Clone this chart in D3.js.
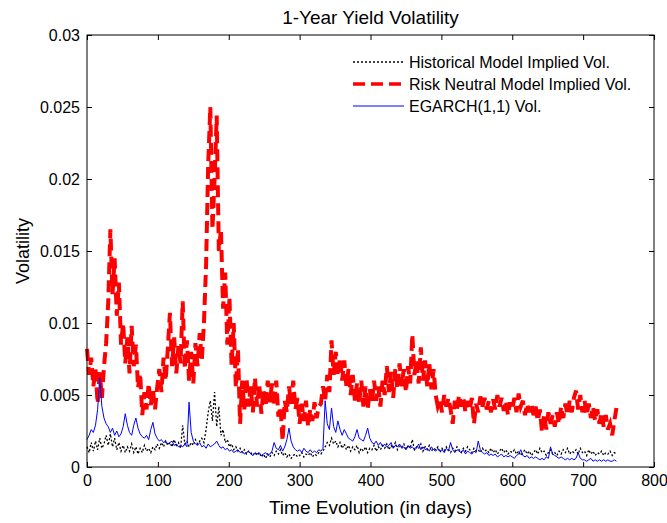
<!DOCTYPE html>
<html>
<head>
    <meta charset="UTF-8">
    <title>1-Year Yield Volatility</title>
    <script src="https://d3js.org/d3.v7.min.js"></script>
    <style>
        body {
            margin: 0;
            padding: 0;
            background: #fff;
        }
        svg text {
            font-family: "Liberation Sans", Arial, Helvetica, sans-serif;
            fill: #000;
        }
        .axis path {
            display: none;
        }
        .axis line {
            stroke: #000;
        }
        .axis text {
            font-size: 16px;
        }
    </style>
</head>
<body>
    <svg id="chart" width="667" height="523"></svg>

    <script>
        // volatility values are in thousandths (x 1e-3), one reading every 3 days
        const step = 3;

        const historicalVol = [
            1.4, 1.0, 1.7, 1.1, 1.8, 1.2, 2.0, 1.3, 1.6, 2.2,
            1.5, 2.3, 1.4, 2.0, 1.2, 1.7, 1.1, 1.5, 1.0, 1.4,
            1.1, 1.6, 1.0, 1.4, 0.9, 1.3, 1.0, 1.5, 1.1, 1.3,
            1.0, 1.4, 1.2, 1.6, 1.3, 1.7, 1.4, 1.8, 1.5, 1.7,
            1.4, 1.9, 1.5, 1.7, 1.3, 2.9, 1.6, 1.8, 1.4, 1.7,
            1.5, 1.9, 1.6, 1.8, 2.0, 1.7, 2.6, 3.8, 4.6, 3.2,
            5.2, 2.8, 4.2, 2.2, 2.6, 1.7, 1.9, 1.4, 1.6, 1.2,
            1.4, 1.1, 1.3, 1.0, 1.2, 0.9, 1.1, 1.0, 0.8, 1.0,
            0.8, 1.0, 0.7, 0.9, 0.6, 0.9, 0.7, 1.0, 0.8, 1.1,
            0.9, 1.2, 0.8, 1.0, 0.7, 0.9, 0.6, 0.8, 0.9, 0.7,
            0.8, 1.0, 0.7, 0.9, 0.8, 1.0, 0.7, 0.9, 0.8, 1.0,
            0.9, 1.1, 1.4, 1.7, 1.5, 2.0, 1.6, 1.8, 1.4, 1.7,
            1.3, 1.6, 1.2, 1.5, 1.1, 1.4, 1.2, 1.5, 1.0, 1.3,
            1.1, 1.4, 1.0, 1.3, 1.2, 1.5, 1.1, 1.4, 1.2, 1.5,
            1.3, 1.6, 1.2, 1.5, 1.3, 1.7, 1.2, 1.5, 1.4, 1.6,
            1.2, 1.5, 1.3, 1.9, 1.2, 1.4, 1.3, 1.6, 1.1, 1.4,
            1.2, 1.5, 1.1, 1.3, 1.2, 1.4, 1.0, 1.3, 1.1, 1.4,
            1.2, 1.0, 1.3, 1.1, 1.4, 1.2, 1.0, 1.3, 1.1, 1.4,
            1.2, 1.0, 1.3, 1.1, 1.2, 1.0, 1.3, 1.1, 1.2, 1.0,
            1.3, 1.0, 1.2, 0.9, 1.1, 1.3, 1.0, 1.2, 0.9, 1.1,
            1.0, 1.2, 0.9, 1.1, 0.8, 1.0, 1.2, 0.9, 1.1, 0.8,
            1.0, 1.2, 0.9, 1.3, 1.0, 1.1, 0.8, 1.0, 1.2, 0.9,
            1.0, 0.8, 1.1, 0.9, 1.2, 1.0, 1.3, 0.9, 1.1, 1.0,
            1.2, 0.9, 1.3, 1.0, 1.1, 0.8, 1.2, 0.9, 1.1, 0.8,
            1.0, 0.9, 1.1, 0.8, 1.0, 0.9, 1.1, 0.8, 1.0, 0.9
        ];

        const riskNeutralVol = [
            8.2, 6.4, 7.6, 5.6, 6.8, 4.4, 6.6, 4.8, 7.0, 8.6,
            11.5, 16.5, 12.0, 14.5, 10.5, 12.8, 8.5, 10.0, 7.2, 9.0,
            6.5, 9.8, 7.0, 8.5, 5.5, 6.5, 3.6, 5.2, 4.0, 5.8,
            4.3, 5.4, 4.0, 5.5, 6.8, 5.2, 7.6, 6.0, 8.2, 10.7,
            7.0, 9.0, 6.5, 8.4, 7.2, 11.5, 6.8, 8.8, 6.0, 8.0,
            5.8, 8.6, 7.0, 9.3, 7.4, 10.0, 14.0, 21.0, 25.0, 16.5,
            20.0, 24.4, 15.0, 16.5, 11.0, 13.5, 8.5, 11.8, 7.0, 10.0,
            5.5, 8.2, 3.0, 6.0, 4.0, 6.2, 4.2, 5.6, 3.8, 6.2,
            4.2, 5.8, 3.7, 5.4, 4.2, 6.0, 4.5, 5.8, 4.2, 6.0,
            3.5, 4.2, 1.8, 4.6, 3.8, 5.6, 4.4, 6.0, 4.0, 4.8,
            3.0, 4.4, 3.2, 4.6, 2.8, 4.0, 3.2, 4.5, 3.4, 4.2,
            4.4, 5.6, 4.6, 6.4, 5.2, 8.8, 6.4, 8.0, 6.3, 7.6,
            6.0, 7.4, 5.6, 6.8, 5.0, 6.4, 4.6, 5.8, 4.4, 6.0,
            4.2, 5.6, 4.0, 5.4, 4.4, 6.0, 4.6, 5.6, 4.2, 6.0,
            5.0, 7.0, 5.2, 6.6, 4.8, 6.8, 5.4, 7.2, 5.6, 6.8,
            5.2, 7.0, 5.8, 9.2, 6.4, 7.4, 5.8, 8.3, 6.0, 7.4,
            5.6, 7.2, 5.4, 6.8, 5.0, 4.2, 4.6, 3.8, 5.0, 4.2,
            4.8, 4.0, 3.0, 4.6, 4.0, 5.0, 4.2, 4.8, 3.8, 4.6,
            4.0, 4.8, 3.0, 4.4, 3.8, 4.9, 4.2, 4.8, 4.0, 4.6,
            3.8, 4.7, 4.0, 5.0, 4.2, 4.8, 3.9, 4.6, 3.6, 4.5,
            4.0, 4.8, 3.8, 5.1, 4.2, 4.6, 3.6, 4.4, 3.8, 4.4,
            3.6, 4.2, 3.2, 4.0, 2.4, 3.6, 2.6, 3.8, 3.0, 3.6,
            2.8, 3.8, 3.0, 4.2, 3.4, 4.4, 3.6, 4.6, 3.8, 4.8,
            5.3, 4.0, 5.0, 3.8, 4.6, 3.6, 4.4, 3.4, 4.2, 3.2,
            4.0, 3.0, 3.8, 2.8, 3.6, 2.6, 3.0, 2.2, 3.2, 4.1
        ];

        const egarchVol = [
            1.9, 2.2, 2.6, 2.4, 2.9, 4.0, 6.2, 4.2, 3.4, 3.0,
            2.8, 2.4, 2.7, 2.2, 2.5, 2.1, 2.3, 2.8, 3.7, 2.9,
            2.4, 2.2, 2.9, 3.4, 2.7, 2.3, 2.1, 2.0, 2.2, 1.9,
            2.6, 3.1, 2.3, 2.0, 1.8, 1.9, 1.7, 1.8, 1.6, 1.7,
            1.8, 1.5, 1.6, 1.4, 1.5, 1.4, 1.6, 1.4, 4.5, 2.4,
            1.8, 1.6, 1.5, 1.7, 1.4, 1.5, 1.3, 1.6, 1.4, 1.5,
            1.6, 1.8, 1.5, 1.3, 1.4, 1.2, 1.3, 1.1, 1.2, 1.0,
            1.1, 1.2, 1.0, 1.1, 0.9, 1.0, 1.1, 0.9, 0.8, 1.0,
            0.9, 1.0, 0.8, 0.9, 1.0, 0.8, 0.9, 1.1, 1.7, 1.3,
            1.2, 1.5, 1.1, 1.4, 1.9, 2.7, 1.8, 1.4, 1.2, 1.1,
            1.2, 1.0, 1.3, 1.1, 1.0, 1.2, 1.0, 1.1, 1.0, 1.2,
            1.1, 1.3, 4.6, 3.0, 2.6, 4.1, 2.8, 2.4, 3.2, 2.6,
            2.2, 2.6, 2.3, 2.0, 1.9, 1.8, 2.1, 2.6, 2.0, 1.9,
            1.8, 2.2, 2.7, 2.0, 1.7, 1.6, 1.8, 1.5, 1.7, 1.4,
            1.6, 1.4, 1.5, 1.7, 1.3, 1.5, 1.4, 1.6, 1.3, 1.4,
            1.2, 1.5, 1.3, 1.4, 1.2, 1.3, 1.6, 1.2, 1.4, 1.2,
            1.3, 1.1, 1.4, 1.2, 1.1, 1.3, 1.1, 1.2, 1.0, 1.3,
            1.1, 1.7, 1.2, 1.0, 1.2, 1.1, 1.0, 1.2, 0.9, 1.1,
            1.0, 0.9, 1.1, 1.0, 1.8, 1.2, 1.0, 0.9, 1.0, 0.8,
            0.9, 0.8, 0.9, 0.7, 0.8, 0.9, 0.7, 0.8, 0.7, 0.8,
            0.7, 0.6, 0.8, 0.9, 1.2, 0.8, 0.7, 0.8, 0.6, 0.7,
            0.6, 0.7, 0.6, 0.5, 0.6, 0.5, 0.7, 0.6, 1.4, 0.9,
            0.8, 0.7, 0.6, 0.7, 0.6, 0.5, 0.6, 0.5, 0.6, 0.5,
            0.6, 1.0, 0.6, 0.5, 0.5, 0.4, 0.5, 0.6, 0.4, 0.5,
            0.4, 0.5, 0.4, 0.5, 0.4, 0.5, 0.4, 0.4, 0.5, 0.4
        ];

        const xTicks = [0, 100, 200, 300, 400, 500, 600, 700, 800];
        const yTicks = [0, 5, 10, 15, 20, 25, 30];
        const yTickLabels = ["0", "0.005", "0.01", "0.015", "0.02", "0.025", "0.03"];

        const seriesNames = ["Historical Model Implied Vol.", "Risk Neutral Model Implied Vol.", "EGARCH(1,1) Vol."];

        const series = [
            { name: seriesNames[0], values: historicalVol, color: "#000", width: 1.3, legendWidth: 1.3, dash: "2,2" },
            { name: seriesNames[1], values: riskNeutralVol, color: "#ff0000", width: 4, legendWidth: 3.5, dash: "12,6" },
            { name: seriesNames[2], values: egarchVol, color: "#0000ff", width: 1, legendWidth: 1, dash: null }
        ];

        const svgWidth = 667, svgHeight = 523;
        const margin = { top: 35, right: 13, bottom: 56, left: 87 };
        const width = svgWidth - margin.left - margin.right;
        const height = svgHeight - margin.top - margin.bottom;

        const svg = d3.select("#chart")
            .append("g")
            .attr("transform", `translate(${margin.left},${margin.top})`);

        const x = d3.scaleLinear().domain([0, 800]).range([0, width]);
        const y = d3.scaleLinear().domain([0, 30]).range([height, 0]);

        // axes, MATLAB style: ticks pointing inward on all four sides
        svg.append("g")
            .attr("class", "axis")
            .attr("transform", `translate(0,${height})`)
            .call(d3.axisBottom(x).tickValues(xTicks).tickSizeInner(-5).tickSizeOuter(0).tickPadding(8));

        svg.append("g")
            .attr("class", "axis")
            .call(d3.axisTop(x).tickValues(xTicks).tickSizeInner(-5).tickSizeOuter(0).tickFormat(""));

        svg.append("g")
            .attr("class", "axis")
            .call(d3.axisLeft(y).tickValues(yTicks).tickSizeInner(-5).tickSizeOuter(0).tickPadding(7)
                .tickFormat((d, i) => yTickLabels[i]));

        svg.append("g")
            .attr("class", "axis")
            .attr("transform", `translate(${width},0)`)
            .call(d3.axisRight(y).tickValues(yTicks).tickSizeInner(-5).tickSizeOuter(0).tickFormat(""));

        const line = d3.line()
            .x((d, i) => x(i * step))
            .y(d => y(d));

        const plot = svg.append("g");

        series.forEach(s => {
            plot.append("path")
                .datum(s.values)
                .attr("fill", "none")
                .attr("stroke", s.color)
                .attr("stroke-width", s.width)
                .attr("stroke-dasharray", s.dash)
                .attr("stroke-linejoin", "miter")
                .attr("d", line);
        });

        svg.append("rect")
            .attr("width", width)
            .attr("height", height)
            .attr("fill", "none")
            .attr("stroke", "#000");

        // legend (no box)
        const legend = svg.append("g")
            .attr("transform", `translate(${353 - margin.left},${62 - margin.top})`);

        series.forEach((s, i) => {
            const row = legend.append("g").attr("transform", `translate(0,${i * 22})`);
            row.append("line")
                .attr("x1", 0).attr("x2", 51)
                .attr("stroke", s.color)
                .attr("stroke-width", s.legendWidth)
                .attr("stroke-dasharray", s.dash);
            row.append("text")
                .attr("x", 56)
                .attr("dy", "0.35em")
                .style("font-size", "16px")
                .text(s.name);
        });

        svg.append("text")
            .attr("x", width / 2)
            .attr("y", -11)
            .attr("text-anchor", "middle")
            .style("font-size", "19px")
            .text("1-Year Yield Volatility");

        svg.append("text")
            .attr("x", width / 2)
            .attr("y", height + 47)
            .attr("text-anchor", "middle")
            .style("font-size", "19px")
            .text("Time Evolution (in days)");

        svg.append("text")
            .attr("transform", "rotate(-90)")
            .attr("x", -height / 2)
            .attr("y", -58)
            .attr("text-anchor", "middle")
            .style("font-size", "18px")
            .text("Volatility");
    </script>
</body>
</html>
